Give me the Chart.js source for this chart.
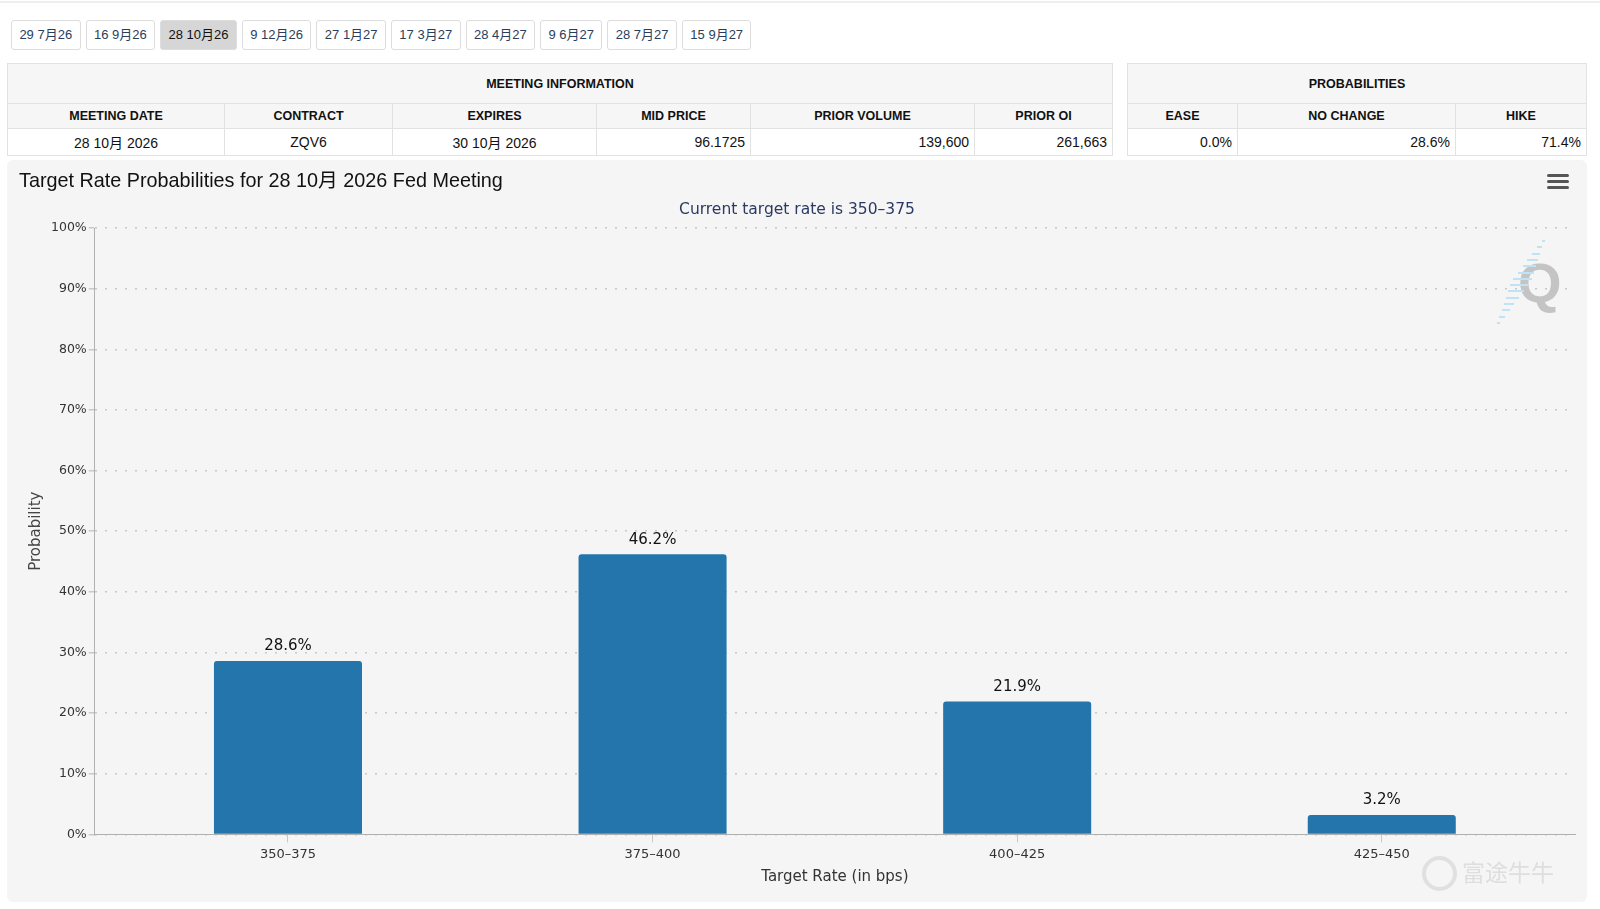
<!DOCTYPE html>
<html>
<head>
<meta charset="utf-8">
<script src="https://cdn.jsdelivr.net/npm/chart.js@4/dist/chart.umd.min.js"></script>
<style>
  body { margin: 0; width: 1600px; height: 909px; background: #fff; font-family: "Liberation Sans", Arial, "Noto Sans CJK SC", sans-serif; position: relative; overflow: hidden; }
  .topline { position: absolute; left: 0; top: 1px; width: 1600px; height: 2px; background: #eee; }
  .tabs { position: absolute; left: 11px; top: 20px; display: flex; }
  .tab { line-height: 28px; padding: 0 7.4px; margin-right: 5px; border: 1px solid #ddd; border-radius: 3px; font-size: 13px; color: #2a3e5c; background: #fff; box-sizing: border-box; height: 30px; }
  .tab.active { background: #d6d6d6; color: #111; }
  table { position: absolute; border-collapse: collapse; table-layout: fixed; font-size: 14px; color: #111; }
  td, th { border: 1px solid #e2e2e2; padding: 0; }
  th { font-size: 12.5px; font-weight: bold; background: #f6f6f6; }
  tr.grp th { height: 39px; }
  tr.col th { height: 24px; }
  tr.dat td { height: 26px; background: #fff; text-align: right; padding: 0 5px; }
  .panel { position: absolute; left: 7px; top: 160px; width: 1580px; height: 742px; background: #f5f5f5; border-radius: 6px; }
  .title { position: absolute; left: 12px; top: 4px; font-size: 19.8px; color: #111; }
  .subtitle { position: absolute; left: 0; width: 1580px; top: 40px; text-align: center; font-family: "DejaVu Sans", sans-serif; font-size: 15.5px; color: #2b3a63; }
  .menu { position: absolute; left: 1540px; top: 14px; width: 22px; }
  .menu div { height: 3px; background: #555; border-radius: 2px; margin-bottom: 3px; }
  .qmark { position: absolute; left: 1511px; top: 90px; font-size: 56px; font-weight: bold; color: #c4c4c4; font-family: "Liberation Sans", sans-serif; }
  .stripe { position: absolute; height: 2px; background: #bfe3f5; }
  .wm { position: absolute; left: 1455px; top: 694px; font-size: 23px; color: #dedede; font-family: "Noto Sans CJK SC", sans-serif; }
  .wmlogo { position: absolute; left: 1415px; top: 696px; width: 27px; height: 27px; border: 4px solid #e0e0e0; border-radius: 50%; }
  canvas { position: absolute; left: 0; top: 0; }
</style>
</head>
<body>
<div class="topline"></div>
<div class="tabs" id="tabs"></div>

<table style="left:7px; top:63px; width:1106px;">
  <colgroup><col style="width:217px"><col style="width:168px"><col style="width:204px"><col style="width:154px"><col style="width:224px"><col></colgroup>
  <tr class="grp"><th colspan="6">MEETING INFORMATION</th></tr>
  <tr class="col"><th>MEETING DATE</th><th>CONTRACT</th><th>EXPIRES</th><th>MID PRICE</th><th>PRIOR VOLUME</th><th>PRIOR OI</th></tr>
  <tr class="dat"><td style="text-align:center">28 10月 2026</td><td style="text-align:center">ZQV6</td><td style="text-align:center">30 10月 2026</td><td>96.1725</td><td>139,600</td><td>261,663</td></tr>
</table>

<table style="left:1127px; top:63px; width:460px;">
  <colgroup><col style="width:110px"><col style="width:218px"><col></colgroup>
  <tr class="grp"><th colspan="3">PROBABILITIES</th></tr>
  <tr class="col"><th>EASE</th><th>NO CHANGE</th><th>HIKE</th></tr>
  <tr class="dat"><td>0.0%</td><td>28.6%</td><td>71.4%</td></tr>
</table>

<div class="panel" id="panel">
  <canvas id="chart"></canvas>
  <div class="title">Target Rate Probabilities for 28 10月 2026 Fed Meeting</div>
  <div class="subtitle">Current target rate is 350–375</div>
  <div class="menu"><div></div><div></div><div></div></div>
  <div class="qmark">Q</div>
  <div class="wmlogo"></div>
  <div class="wm">富途牛牛</div>
</div>

<script>
const meetingTabs = ['29 7月26', '16 9月26', '28 10月26', '9 12月26', '27 1月27', '17 3月27', '28 4月27', '9 6月27', '28 7月27', '15 9月27'];
const activeTab = '28 10月26';
const rateRanges = ['350–375', '375–400', '400–425', '425–450'];
const probabilities = [28.6, 46.2, 21.9, 3.2];
const yTicks = [0, 10, 20, 30, 40, 50, 60, 70, 80, 90, 100];

const tabs = document.getElementById('tabs');
meetingTabs.forEach(t => {
  const d = document.createElement('div');
  d.className = 'tab' + (t === activeTab ? ' active' : '');
  d.textContent = t;
  tabs.appendChild(d);
});

// faint stripes of the watermark logo
const panel = document.getElementById('panel');
for (let i = 0; i < 14; i++) {
  const s = document.createElement('div');
  s.className = 'stripe';
  const w = 3 + Math.min(i, 13 - i) * 2.6;
  s.style.left = (1536 - i * 3.4 - w / 2) + 'px';
  s.style.top = (80 + i * 6.3) + 'px';
  s.style.width = w + 'px';
  panel.appendChild(s);
}

// labels above bars
const barLabels = {
  id: 'barLabels',
  afterDatasetsDraw(chart) {
    const ctx = chart.ctx;
    const meta = chart.getDatasetMeta(0);
    ctx.save();
    ctx.font = '15px "DejaVu Sans", sans-serif';
    ctx.fillStyle = '#111';
    ctx.textAlign = 'center';
    ctx.textBaseline = 'bottom';
    meta.data.forEach((bar, i) => {
      ctx.fillText(probabilities[i].toFixed(1) + '%', bar.x, bar.y - 7);
    });
    ctx.restore();
  }
};

const canvas = document.getElementById('chart');
canvas.width = 1580;
canvas.height = 742;
canvas.style.width = '1580px';
canvas.style.height = '742px';

new Chart(canvas, {
  type: 'bar',
  data: {
    datasets: [{
      data: probabilities.map((v, i) => ({ x: i, y: v })),
      backgroundColor: '#2475ac',
      borderRadius: { topLeft: 3, topRight: 3 },
      borderSkipped: 'bottom',
      categoryPercentage: 0.406,
      barPercentage: 1.0
    }]
  },
  options: {
    responsive: false,
    animation: false,
    layout: { padding: { top: 68, right: 12, bottom: 12, left: 16 } },
    plugins: { legend: { display: false }, tooltip: { enabled: false } },
    scales: {
      x: {
        type: 'linear',
        offset: false,
        min: -0.53,
        max: rateRanges.length - 1 + 0.53,
        afterBuildTicks(axis) { axis.ticks = rateRanges.map((r, i) => ({ value: i })); },
        grid: { offset: false, drawOnChartArea: false, tickLength: 8, color: '#c8c8c8' },
        border: { display: true, color: '#b0b0b0', width: 1 },
        ticks: { color: '#333', font: { family: 'DejaVu Sans', size: 13 }, padding: 4, callback: v => rateRanges[v] },
        title: { display: true, text: 'Target Rate (in bps)', color: '#333', font: { family: 'DejaVu Sans', size: 15 }, padding: { top: 2 } }
      },
      y: {
        min: 0,
        max: 100,
        afterBuildTicks(axis) { axis.ticks = yTicks.map(v => ({ value: v })); },
        grid: { color: '#c8c8c8', lineWidth: 1.5, tickLength: 6, drawTicks: true },
        border: { display: true, color: '#b0b0b0', width: 1, dash: [2, 8] },
        ticks: { color: '#333', font: { family: 'DejaVu Sans', size: 12.5 }, padding: 2, callback: v => v + '%' },
        title: { display: true, text: 'Probability', color: '#444', font: { family: 'DejaVu Sans', size: 15 }, padding: { bottom: 4 } }
      }
    }
  },
  plugins: [barLabels]
});
</script>
</body>
</html>
